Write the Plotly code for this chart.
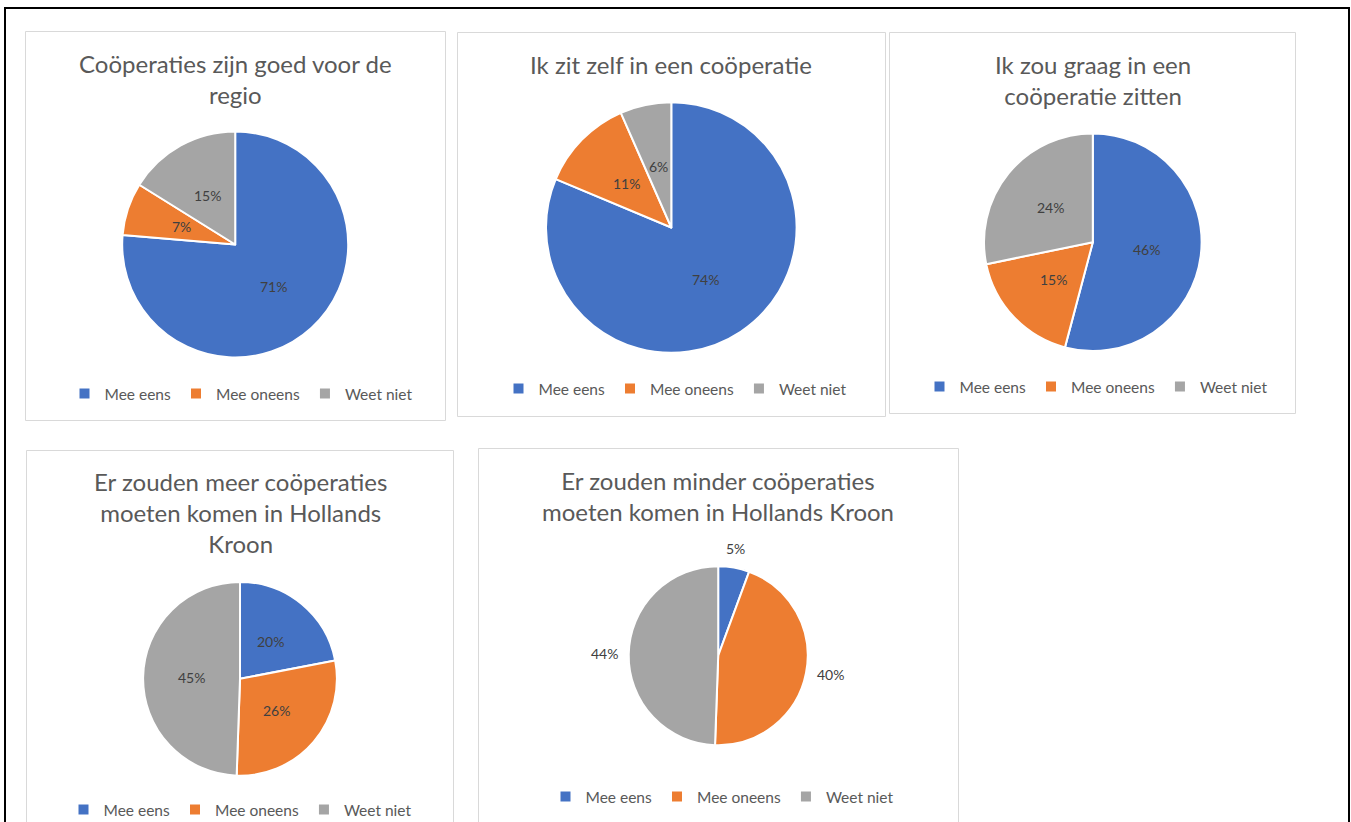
import numpy as np
import plotly.graph_objects as go

W, H = 1351, 822

# ---------------- data ----------------
categories = ["Mee eens", "Mee oneens", "Weet niet"]
titles = [
    "Coöperaties zijn goed voor de<br>regio",
    "Ik zit zelf in een coöperatie",
    "Ik zou graag in een<br>coöperatie zitten",
    "Er zouden meer coöperaties<br>moeten komen in Hollands<br>Kroon",
    "Er zouden minder coöperaties<br>moeten komen in Hollands Kroon",
]
values_goed_voor_regio = [71, 7, 15]
values_zit_zelf_in = [74, 11, 6]
values_graag_in = [46, 15, 24]
values_meer = [20, 26, 45]
values_minder = [5, 40, 44]
all_values = [values_goed_voor_regio, values_zit_zelf_in, values_graag_in,
              values_meer, values_minder]

colors = ["#4472C4", "#ED7D31", "#A5A5A5"]

# ---------------- layout (pixels) ----------------
panels = [
    dict(box=(25.5, 31.5, 445.5, 420.5), c=(235.2, 244.5), r=113.0, ty=79, lx=241, ly=394, outside=False),
    dict(box=(457.5, 32.5, 885.5, 416.5), c=(671.3, 227.5), r=125.3, ty=64, lx=675, ly=389, outside=False),
    dict(box=(889.5, 32.5, 1295.5, 413.5), c=(1092.8, 242.2), r=108.8, ty=80, lx=1096, ly=387, outside=False),
    dict(box=(26.5, 450.5, 453.5, 900), c=(240.0, 678.8), r=96.9, ty=512, lx=240, ly=810, outside=False),
    dict(box=(478.5, 448.5, 958.5, 900), c=(718.2, 655.7), r=89.5, ty=496.5, lx=722, ly=797, outside=True),
]

def px(x):
    return x / W

def py(y):
    return 1 - y / H

fig = go.Figure()
shapes = []
annotations = []
legends = {}

FAMILY = "Lato, Carlito, Calibri, sans-serif"
TITLE_FONT = dict(family=FAMILY, size=24, color="#595959")
LABEL_FONT = dict(family=FAMILY, size=14, color="#404040")
LEGEND_FONT = dict(family=FAMILY, size=15.5, color="#595959")

# outer black frame
shapes.append(dict(type="rect", xref="paper", yref="paper",
                   x0=px(5), x1=px(1349), y0=py(8), y1=py(900),
                   line=dict(color="#000000", width=2), fillcolor="rgba(0,0,0,0)"))

for i, (p, vals, title) in enumerate(zip(panels, all_values, titles)):
    cx, cy = p["c"]
    r = p["r"]
    legend_name = "legend" if i == 0 else f"legend{i+1}"
    # zero-width spaces keep each chart's legend entries distinct (pie labels are shared otherwise)
    labels_i = [lab + "\u200b" * i for lab in categories]
    fig.add_trace(go.Pie(
        labels=labels_i, values=vals, sort=False, direction="clockwise", rotation=0,
        marker=dict(colors=colors, line=dict(color="#FFFFFF", width=2)),
        textinfo="none", hoverinfo="label+value",
        domain=dict(x=[px(cx - r), px(cx + r)], y=[py(cy + r), py(cy - r)]),
        showlegend=True, legend=legend_name,
    ))
    # panel border
    x0, y0, x1, y1 = p["box"]
    shapes.append(dict(type="rect", xref="paper", yref="paper",
                       x0=px(x0), x1=px(x1), y0=py(y1), y1=py(y0),
                       line=dict(color="#D9D9D9", width=1), fillcolor="rgba(0,0,0,0)",
                       layer="below"))
    # title
    annotations.append(dict(text=title, x=px(cx), y=py(p["ty"]), xref="paper", yref="paper",
                            xanchor="center", yanchor="middle", showarrow=False,
                            font=TITLE_FONT, align="center"))
    # data labels computed from the slice angles
    total = float(sum(vals))
    cum = np.cumsum([0] + list(vals))
    for k, v in enumerate(vals):
        mid = (cum[k] + v / 2.0) / total * 2 * np.pi  # clockwise from 12 o'clock
        s, c = np.sin(mid), np.cos(mid)
        if p["outside"]:
            d = r + 9
            xa = "left" if s > 0.3 else ("right" if s < -0.3 else "center")
            ya = "bottom" if c > 0.3 else ("top" if c < -0.3 else "middle")
        else:
            d = 0.5 * r
            xa, ya = "center", "middle"
        annotations.append(dict(text=f"{v}%", x=px(cx + s * d), y=py(cy - c * d),
                                xref="paper", yref="paper", xanchor=xa, yanchor=ya,
                                showarrow=False, font=LABEL_FONT))
    legends[legend_name] = dict(orientation="h", x=px(p["lx"]), y=py(p["ly"]),
                                xref="container", yref="container",
                                xanchor="center", yanchor="middle",
                                bgcolor="rgba(0,0,0,0)", font=LEGEND_FONT,
                                itemwidth=30, traceorder="normal")

fig.update_layout(
    width=W, height=H, autosize=False,
    margin=dict(l=0, r=0, t=0, b=0, autoexpand=False),
    paper_bgcolor="#FFFFFF", plot_bgcolor="#FFFFFF",
    shapes=shapes, annotations=annotations,
    **legends,
)

fig.write_html("out.html", config={"displayModeBar": False},
               post_script="document.body.style.margin='0px';")
